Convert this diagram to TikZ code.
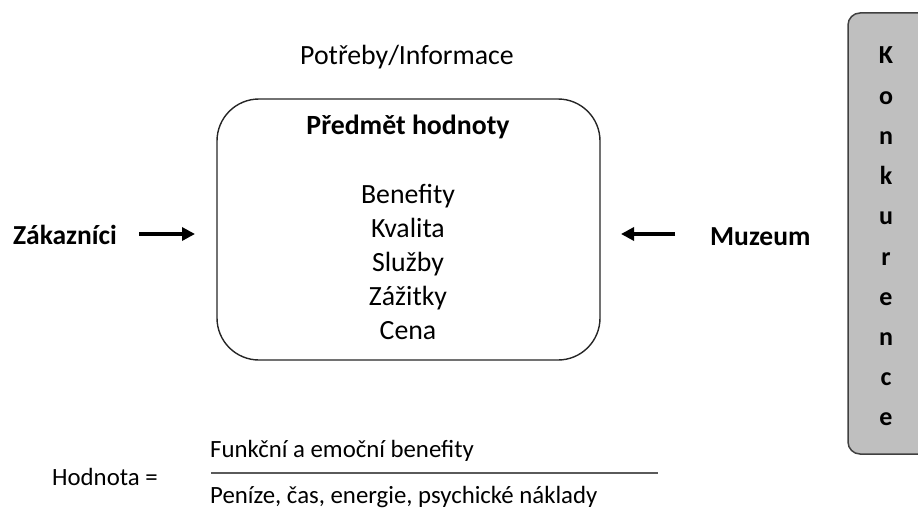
\documentclass[tikz,border=0pt]{standalone}
\usepackage{fontspec}
\setmainfont{Carlito}
\usetikzlibrary{arrows.meta}
\definecolor{boxgray}{HTML}{BFBFBF}
\definecolor{edgegray}{HTML}{404040}
\definecolor{rulegray}{HTML}{5A5A5A}
\tikzset{
  txt/.style={anchor=base, inner sep=0pt, font=\fontsize{27.8}{34}\selectfont},
  boldw/.style={anchor=base west, inner sep=0pt, font=\fontsize{27.5}{32}\selectfont\bfseries},
  letter/.style={anchor=base, inner sep=0pt, font=\fontsize{26}{32}\selectfont\bfseries},
  small/.style={anchor=base west, inner sep=0pt, font=\fontsize{24.8}{30}\selectfont},
  flow/.style={line width=4pt, -{Triangle[length=13pt,width=13pt]}},
  valuebox/.style={draw=black!85, line width=1.4pt, rounded corners=42pt},
  sidebox/.style={draw=edgegray, fill=boxgray, line width=1.5pt, rounded corners=12pt}
}
\begin{document}
\begin{tikzpicture}[x=1pt,y=-1pt]
\useasboundingbox (0,0) rectangle (918,508);

% value proposition box
\draw[valuebox] (217,99) rectangle (600,360);
\node[txt] (needs) at (407,65) {Potřeby/Informace};
\node[txt, font=\fontsize{27.8}{34}\selectfont\bfseries] (title) at (408,135) {Předmět hodnoty};
\node[txt] (i1) at (408,203) {Benefity};
\node[txt] (i2) at (408,237) {Kvalita};
\node[txt] (i3) at (408,271) {Služby};
\node[txt] (i4) at (408,305) {Zážitky};
\node[txt] (i5) at (408,339) {Cena};

% customers and museum pointing inwards
\node[boldw] (zak) at (13,244) {Zákazníci};
\node[boldw] (muz) at (710,245) {Muzeum};
\coordinate (zakA) at (139,234);
\coordinate (zakB) at (195,234);
\coordinate (muzA) at (675,234);
\coordinate (muzB) at (621,234);
\draw[flow] (zakA) -- (zakB);
\draw[flow] (muzA) -- (muzB);

% competition strip on the right
\begin{scope}
\clip (0,0) rectangle (918,508);
\draw[sidebox] (848,13) rectangle (935,454);
\end{scope}
\foreach \ch [count=\i from 0] in {K,o,n,k,u,r,e,n,c,e}
  \node[letter] (k\i) at (886,64+40.2*\i) {\ch};

% value formula
\node[small] (hod) at (52,485) {Hodnota =};
\node[small] (num) at (210,457) {Funkční a emoční benefity};
\node[small] (den) at (210,503) {Peníze, čas, energie, psychické náklady};
\coordinate (fracA) at (211,473);
\coordinate (fracB) at (658,473);
\draw[rulegray, line width=1.6pt] (fracA) -- (fracB);
\end{tikzpicture}
\end{document}
